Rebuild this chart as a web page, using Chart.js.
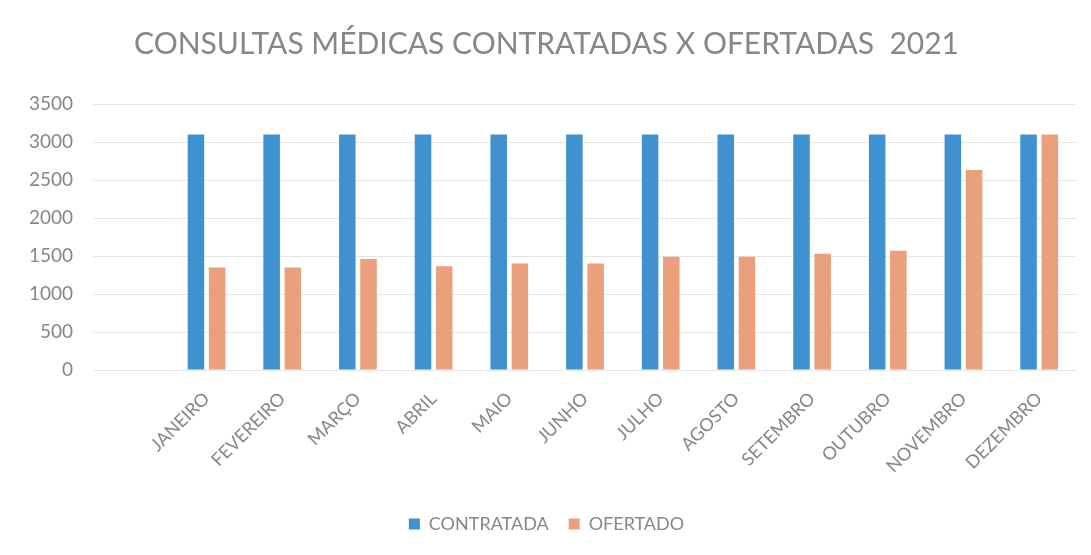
<!DOCTYPE html>
<html>
<head>
<meta charset="utf-8">
<script src="https://cdn.jsdelivr.net/npm/chart.js@4/dist/chart.umd.min.js"></script>
<style>
  html, body { margin: 0; padding: 0; background: #fff; }
  #wrap { width: 1091px; height: 555px; }
</style>
</head>
<body>
<div id="wrap"><canvas id="chart" width="1091" height="555"></canvas></div>
<script>
// first slot is empty in the original sheet
const months = ['', 'JANEIRO', 'FEVEREIRO', 'MARÇO', 'ABRIL', 'MAIO', 'JUNHO',
    'JULHO', 'AGOSTO', 'SETEMBRO', 'OUTUBRO', 'NOVEMBRO', 'DEZEMBRO'];
const contratada = [null, 3100, 3100, 3100, 3100, 3100, 3100, 3100, 3100, 3100, 3100, 3100, 3100];
const ofertado = [null, 1350, 1350, 1460, 1365, 1400, 1400, 1490, 1490, 1530, 1570, 2630, 3100];
const yTicks = [0, 500, 1000, 1500, 2000, 2500, 3000, 3500];

const gray = '#878787';
const font = 'Lato, "Open Sans", sans-serif';

const ctx = document.getElementById('chart').getContext('2d');
new Chart(ctx, {
    type: 'bar',
    data: {
        labels: months,
        datasets: [
            { label: 'CONTRATADA', data: contratada, backgroundColor: '#3f91d0' },
            { label: 'OFERTADO', data: ofertado, backgroundColor: '#eaa07d' }
        ]
    },
    options: {
        responsive: false,
        animation: false,
        layout: { padding: { left: 16, right: 14, top: 0, bottom: 12 } },
        datasets: { bar: { categoryPercentage: 0.56, barPercentage: 0.78 } },
        plugins: {
            title: {
                display: true,
                text: 'CONSULTAS MÉDICAS CONTRATADAS X OFERTADAS  2021',
                color: gray,
                font: { family: font, size: 30, weight: 'normal' },
                padding: { top: 26, bottom: 42 }
            },
            legend: {
                position: 'bottom',
                labels: {
                    color: gray,
                    font: { family: font, size: 18 },
                    boxWidth: 11,
                    boxHeight: 11,
                    padding: 20
                }
            },
            tooltip: { enabled: false }
        },
        scales: {
            x: {
                grid: { display: false },
                border: { display: false },
                ticks: {
                    color: gray,
                    font: { family: font, size: 18 },
                    minRotation: 45,
                    maxRotation: 45,
                    autoSkip: false,
                    padding: 10
                },
                afterFit: (axis) => { axis.height = 125; }
            },
            y: {
                min: 0,
                max: 3500,
                afterBuildTicks: (axis) => { axis.ticks = yTicks.map(v => ({ value: v })); },
                grid: { color: '#e6e6e6', drawTicks: false },
                border: { display: false },
                ticks: {
                    color: gray,
                    font: { family: font, size: 19 },
                    padding: 20,
                    callback: (v) => String(v)
                },
                afterFit: (axis) => { axis.width = 77; }
            }
        }
    }
});
</script>
</body>
</html>
